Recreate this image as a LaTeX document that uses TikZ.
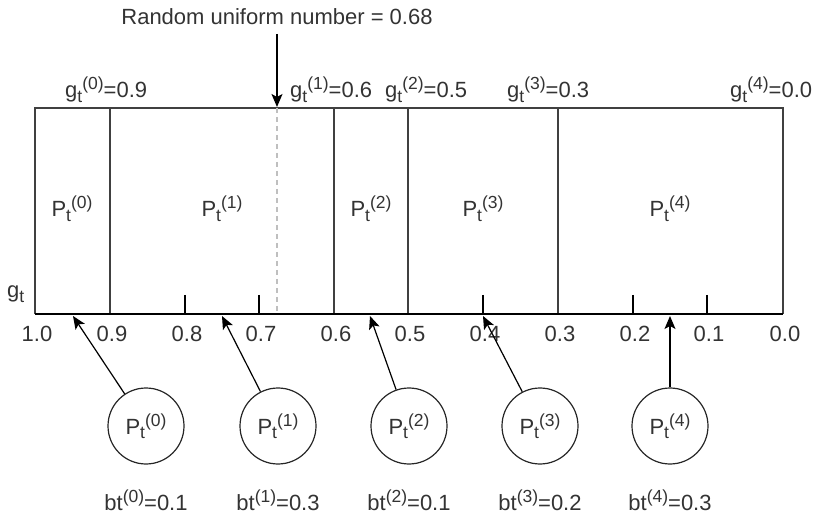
\documentclass[tikz,border=0pt]{standalone}
\usepackage{fontspec}
\setmainfont{Liberation Sans}
\usetikzlibrary{arrows.meta}
\newcommand\lo[1]{\raisebox{-4.5pt}{\fontsize{17.5}{17.5}\selectfont #1}}
\newcommand\hi[1]{\raisebox{8pt}{\fontsize{17.5}{17.5}\selectfont #1}}
\begin{document}
\begin{tikzpicture}[x=1pt,y=-1pt,
  txt/.style={inner sep=0pt,text=black!80,font=\fontsize{22}{25}\selectfont},
  frame/.style={draw=black!75,line width=1.2pt},
  axis/.style={draw=black,line width=1.4pt},
  tick/.style={draw=black,line width=1.2pt},
  pnode/.style={circle,draw=black!85,line width=1.2pt,minimum size=76pt,inner sep=0pt,txt},
  parrow/.style={draw=black,line width=1.2pt,-{Stealth[length=13pt,width=11pt,inset=3pt]}}]
\useasboundingbox (0,0) rectangle (817,521);
% frame
\draw[frame] (35,314) -- (35,108) -- (783,108) -- (783,314);
\foreach \x in {110,334,408,558} \draw[frame] (\x,108) -- (\x,314);
\foreach \x in {185,259,483,633,707} \draw[tick] (\x,295) -- (\x,314);
\draw[axis] (35,314) -- (783,314);
% dashed
\draw[draw=black!25,line width=1.4pt,dash pattern=on 5pt off 4pt] (277,108) -- (277,314);
% random
\node[txt,anchor=base] (rnd) at (277,25) {Random uniform number = 0.68};
\coordinate (rtip) at (277,107);
\draw[parrow] (277,34) -- (rtip);
% top labels
\node[txt,anchor=base west] (g0) at (65,98) {g\lo{t}\hi{(0)}=0.9};
\node[txt,anchor=base west] (g1) at (290,98) {g\lo{t}\hi{(1)}=0.6};
\node[txt,anchor=base west] (g2) at (385,98) {g\lo{t}\hi{(2)}=0.5};
\node[txt,anchor=base west] (g3) at (507,98) {g\lo{t}\hi{(3)}=0.3};
\node[txt,anchor=base west] (g4) at (730,98) {g\lo{t}\hi{(4)}=0.0};
% P in box
\node[txt,anchor=base] (b0) at (72,217) {P\lo{t}\hi{(0)}};
\node[txt,anchor=base] (b1) at (222,217) {P\lo{t}\hi{(1)}};
\node[txt,anchor=base] (b2) at (371,217) {P\lo{t}\hi{(2)}};
\node[txt,anchor=base] (b3) at (483,217) {P\lo{t}\hi{(3)}};
\node[txt,anchor=base] (b4) at (670,217) {P\lo{t}\hi{(4)}};
% g_t
\node[txt,anchor=base west] (gt) at (7,298) {g\lo{t}};
% axis labels
\foreach \x/\l in {37/1.0,112/0.9,187/0.8,261/0.7,336/0.6,410/0.5,485/0.4,560/0.3,635/0.2,709/0.1,785/0.0}
  \node[txt,anchor=base] at (\x,342) {\l};
% circles
\node[pnode] (c0) at (146,426) {P\lo{t}\hi{(0)}};
\node[pnode] (c1) at (278,426) {P\lo{t}\hi{(1)}};
\node[pnode] (c2) at (409,426) {P\lo{t}\hi{(2)}};
\node[pnode] (c3) at (540,426) {P\lo{t}\hi{(3)}};
\node[pnode] (c4) at (670,426) {P\lo{t}\hi{(4)}};
\coordinate (t0) at (73,316);
\coordinate (t1) at (222,316);
\coordinate (t2) at (370,316);
\coordinate (t3) at (483,316);
\coordinate (t4) at (670,316);
\foreach \i in {0,...,4} \draw[parrow] (c\i) -- (t\i);
% b labels
\node[txt,anchor=base] (l0) at (146,510) {bt\hi{(0)}=0.1};
\node[txt,anchor=base] (l1) at (278,510) {bt\hi{(1)}=0.3};
\node[txt,anchor=base] (l2) at (409,510) {bt\hi{(2)}=0.1};
\node[txt,anchor=base] (l3) at (540,510) {bt\hi{(3)}=0.2};
\node[txt,anchor=base] (l4) at (670,510) {bt\hi{(4)}=0.3};
\end{tikzpicture}
\end{document}
